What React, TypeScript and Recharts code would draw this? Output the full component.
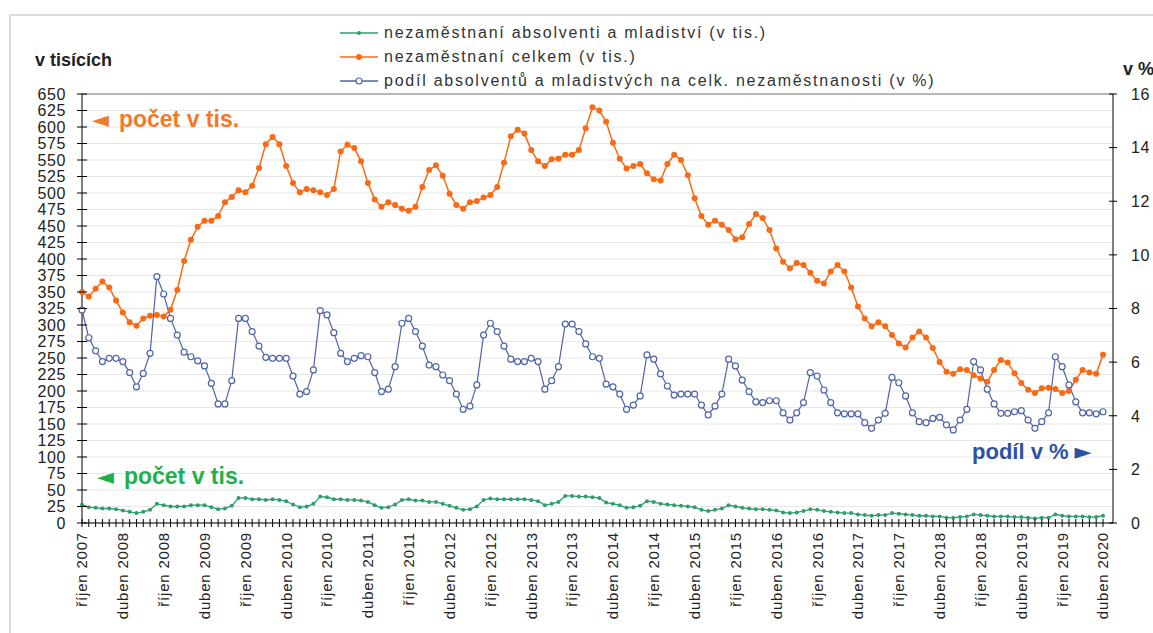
import { LineChart, Line, XAxis, YAxis, CartesianGrid, ReferenceLine } from "recharts";

const MONTHS = ["leden", "únor", "březen", "duben", "květen", "červen", "červenec", "srpen", "září", "říjen", "listopad", "prosinec"];
const START_YEAR = 2007;
const START_MONTH = 9; // říjen

// nezaměstnaní celkem (v tis.), říjen 2007 – duben 2020
const celkem = [
  350, 343, 355, 366, 357, 337, 319, 304, 299, 310, 314, 315,
  313, 323, 353, 397, 429, 449, 458, 458, 465, 486, 494, 504,
  501, 511, 538, 574, 585, 574, 541, 515, 501, 506, 504, 501,
  497, 506, 563, 573, 568, 548, 515, 490, 479, 486, 482, 476,
  473, 479, 509, 535, 542, 526, 499, 482, 476, 486, 488, 493,
  497, 509, 546, 586, 596, 590, 565, 548, 541, 551, 552, 558,
  558, 565, 598, 630, 625, 608, 576, 552, 537, 541, 544, 530,
  521, 519, 544, 558, 550, 527, 492, 465, 452, 458, 452, 444,
  430, 433, 453, 468, 462, 444, 416, 396, 386, 394, 391, 379,
  367, 363, 381, 391, 381, 357, 328, 310, 298, 304, 298, 285,
  272, 266, 281, 290, 281, 265, 244, 229, 226, 233, 232, 224,
  219, 214, 232, 247, 243, 227, 212, 202, 197, 204, 205, 203,
  197, 200, 217, 232, 228, 226, 255,
];

// nezaměstnaní absolventi a mladiství (v tis.)
const absolventi = [
  28, 24, 23, 22, 22, 21, 19, 17, 15, 17, 20, 29,
  27, 25, 25, 25, 27, 27, 27, 24, 21, 22, 26, 38,
  38, 36, 36, 35, 36, 35, 33, 28, 24, 25, 29, 40,
  39, 36, 36, 35, 35, 34, 32, 27, 23, 24, 28, 35,
  36, 34, 34, 32, 32, 29, 26, 23, 20, 21, 25, 35,
  37, 36, 36, 36, 36, 36, 35, 33, 27, 29, 32, 41,
  41, 40, 40, 39, 38, 31, 29, 27, 23, 24, 26, 33,
  32, 29, 28, 27, 26, 25, 24, 20, 18, 20, 22, 27,
  25, 23, 22, 21, 21, 20, 19, 16, 15, 16, 18, 21,
  20, 18, 17, 16, 15, 15, 13, 12, 11, 12, 12, 15,
  14, 13, 12, 11, 11, 10, 10, 8, 8, 9, 10, 13,
  12, 11, 10, 10, 10, 9, 9, 8, 7, 8, 8, 13,
  11, 10, 10, 10, 9, 9, 11,
];

// podíl absolventů a mladistvých na celk. nezaměstnanosti (v %)
const podil = [
  7.94, 6.91, 6.42, 6.02, 6.14, 6.14, 6.02, 5.61, 5.08, 5.58, 6.33, 9.19,
  8.54, 7.63, 7.01, 6.37, 6.2, 6.05, 5.86, 5.21, 4.44, 4.44, 5.31, 7.63,
  7.63, 7.14, 6.6, 6.18, 6.14, 6.14, 6.14, 5.48, 4.81, 4.9, 5.71, 7.92,
  7.76, 7.1, 6.33, 6.02, 6.14, 6.24, 6.2, 5.61, 4.9, 4.99, 5.83, 7.45,
  7.63, 7.14, 6.6, 5.89, 5.83, 5.52, 5.31, 4.81, 4.24, 4.36, 5.15, 7.01,
  7.45, 7.14, 6.6, 6.11, 6.02, 6.02, 6.14, 6.02, 4.99, 5.31, 5.83, 7.42,
  7.42, 7.14, 6.68, 6.2, 6.14, 5.18, 5.08, 4.81, 4.24, 4.4, 4.74, 6.27,
  6.11, 5.56, 5.11, 4.77, 4.81, 4.81, 4.81, 4.4, 4.03, 4.36, 4.81, 6.11,
  5.86, 5.33, 4.9, 4.52, 4.49, 4.56, 4.56, 4.11, 3.84, 4.11, 4.49, 5.61,
  5.48, 4.96, 4.49, 4.11, 4.07, 4.07, 4.07, 3.74, 3.53, 3.84, 4.09, 5.43,
  5.23, 4.74, 4.11, 3.78, 3.74, 3.9, 3.94, 3.66, 3.47, 3.84, 4.24, 6.02,
  5.71, 4.99, 4.44, 4.09, 4.09, 4.15, 4.19, 3.84, 3.53, 3.78, 4.11, 6.2,
  5.83, 5.15, 4.52, 4.11, 4.11, 4.07, 4.15,
];

const LEFT_TICKS = [0, 25, 50, 75, 100, 125, 150, 175, 200, 225, 250, 275, 300, 325, 350, 375, 400, 425, 450, 475, 500, 525, 550, 575, 600, 625, 650];
const RIGHT_TICKS = [0, 2, 4, 6, 8, 10, 12, 14, 16];

const LEGEND = [
  { label: "nezaměstnaní absolventi a mladiství (v tis.)", color: "#2E9E6B", hollow: false, r: 2 },
  { label: "nezaměstnaní celkem (v tis.)", color: "#FA6914", hollow: false, r: 3 },
  { label: "podíl absolventů a mladistvých na celk. nezaměstnanosti (v %)", color: "#5064AA", hollow: true, r: 3 },
];

const data = celkem.map((v, i) => {
  const m = START_MONTH + i;
  return {
    mesic: `${MONTHS[m % 12]} ${START_YEAR + Math.floor(m / 12)}`,
    celkem: v,
    absolventi: absolventi[i],
    podil: podil[i],
  };
});

const W = 1153;
const H = 633;
const PLOT_LEFT = 82;
const PLOT_RIGHT = 1113;
const PLOT_TOP = 94;
const PLOT_BOTTOM = 523;
const FONT = "'Liberation Sans', Arial, sans-serif";
const ARROW_FONT = "'DejaVu Sans', sans-serif";

function LeftTick({ y, payload }: any) {
  return (
    <g>
      <line x1={PLOT_LEFT - 5} x2={PLOT_LEFT + 5} y1={y} y2={y} stroke="#000" />
      <text x={66} y={y} dy="0.36em" textAnchor="end" fontSize={16} letterSpacing={0.6} fill="#222" fontFamily={FONT}>
        {payload.value}
      </text>
    </g>
  );
}

function RightTick({ y, payload }: any) {
  return (
    <g>
      <line x1={PLOT_RIGHT - 4} x2={PLOT_RIGHT + 4} y1={y} y2={y} stroke="#000" />
      <text x={1131} y={y} dy="0.36em" textAnchor="start" fontSize={16} letterSpacing={0.6} fill="#222" fontFamily={FONT}>
        {payload.value}
      </text>
    </g>
  );
}

function MonthTick({ x, index, payload }: any) {
  return (
    <g>
      <line x1={x} x2={x} y1={PLOT_BOTTOM - 4} y2={PLOT_BOTTOM + 4} stroke="#000" />
      {index % 6 === 0 && (
        <text
          transform={`translate(${x},${PLOT_BOTTOM + 9}) rotate(-90)`}
          dy="0.36em"
          textAnchor="end"
          fontSize={15}
          letterSpacing={0.8}
          fill="#222"
          fontFamily={FONT}
        >
          {payload.value}
        </text>
      )}
    </g>
  );
}

export default function App() {
  return (
    <div style={{ position: "absolute", left: 0, top: 0, width: W, height: H, background: "#fff", overflow: "hidden" }}>
      <div style={{ position: "absolute", left: 9, top: 14, width: 1170, height: 650, border: "2px solid #dcdcdc" }} />
      <div style={{ position: "absolute", left: 0, top: 0 }}>
        <LineChart width={W} height={H} data={data} margin={{ top: PLOT_TOP, right: 0, bottom: 0, left: 0 }}>
          <CartesianGrid vertical={false} stroke="#e6e6e6" />
          <XAxis
            dataKey="mesic"
            interval={0}
            height={H - PLOT_BOTTOM}
            padding={{ left: 0, right: 10 }}
            tickLine={false}
            axisLine={{ stroke: "#000" }}
            tick={<MonthTick />}
          />
          <YAxis
            domain={[0, 650]}
            ticks={LEFT_TICKS}
            interval={0}
            width={PLOT_LEFT}
            tickLine={false}
            axisLine={{ stroke: "#000" }}
            tick={<LeftTick />}
          />
          <YAxis
            yAxisId="right"
            orientation="right"
            domain={[0, 16]}
            ticks={RIGHT_TICKS}
            interval={0}
            width={W - PLOT_RIGHT}
            tickLine={false}
            axisLine={{ stroke: "#000" }}
            tick={<RightTick />}
          />
          <ReferenceLine y={650} stroke="#7a7a7a" />
          <Line
            dataKey="absolventi"
            stroke="#2E9E6B"
            strokeWidth={1.3}
            dot={{ r: 2, fill: "#2E9E6B", stroke: "#2E9E6B", strokeWidth: 0 }}
            activeDot={false}
            isAnimationActive={false}
          />
          <Line
            dataKey="celkem"
            stroke="#FA6914"
            strokeWidth={1.5}
            dot={{ r: 3, fill: "#FA6914", stroke: "#FA6914", strokeWidth: 0 }}
            activeDot={false}
            isAnimationActive={false}
          />
          <Line
            yAxisId="right"
            dataKey="podil"
            stroke="#5064AA"
            strokeWidth={1.2}
            dot={{ r: 3, fill: "#fff", stroke: "#5064AA", strokeWidth: 1.2 }}
            activeDot={false}
            isAnimationActive={false}
          />
        </LineChart>
      </div>
      <svg width={W} height={H} style={{ position: "absolute", left: 0, top: 0, pointerEvents: "none" }} fontFamily={FONT}>
        {LEGEND.map((l, i) => {
          const cy = 33 + i * 24;
          return (
            <g key={l.label}>
              <line x1={340} x2={378} y1={cy} y2={cy} stroke={l.color} strokeWidth={1.3} />
              <circle cx={359} cy={cy} r={l.r} fill={l.hollow ? "#fff" : l.color} stroke={l.color} strokeWidth={l.hollow ? 1.2 : 0} />
              <text x={384} y={cy + 5} fontSize={16} letterSpacing={1.75} fill="#333">
                {l.label}
              </text>
            </g>
          );
        })}
        <text x={35} y={66} fontSize={18} fontWeight="bold" fill="#222">v tisících</text>
        <text x={1123} y={75} fontSize={18} fontWeight="bold" fill="#222">v %</text>
        <text x={92} y={127} fontWeight="bold" fill="#F07A28">
          <tspan fontSize={22} fontFamily={ARROW_FONT}>◄</tspan>
          <tspan fontSize={23} dx={10}>počet v tis.</tspan>
        </text>
        <text x={97} y={484} fontWeight="bold" fill="#1FB04C">
          <tspan fontSize={22} fontFamily={ARROW_FONT}>◄</tspan>
          <tspan fontSize={23} dx={10}>počet v tis.</tspan>
        </text>
        <text x={972} y={459} fontWeight="bold" fill="#2D52A3">
          <tspan fontSize={22}>podíl v %</tspan>
          <tspan fontSize={22} dx={6} fontFamily={ARROW_FONT}>►</tspan>
        </text>
      </svg>
    </div>
  );
}
